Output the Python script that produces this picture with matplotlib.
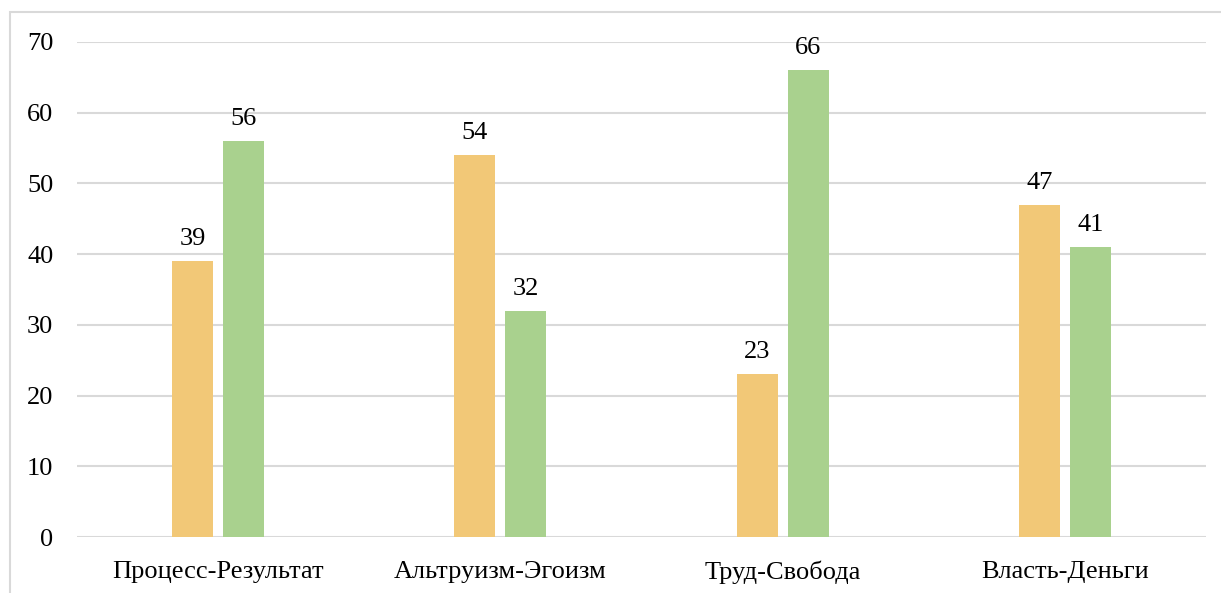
import numpy as np
import matplotlib
matplotlib.use('Agg')
import matplotlib.pyplot as plt
from matplotlib.patches import Rectangle

categories = ['Процесс-Результат', 'Альтруизм-Эгоизм', 'Труд-Свобода', 'Власть-Деньги']
series_a = [39, 54, 23, 47]
series_b = [56, 32, 66, 41]

plt.rcParams['font.family'] = ['Liberation Serif', 'DejaVu Serif']
FONTSIZE = 19

fig = plt.figure(figsize=(12.21, 5.93), dpi=100)
ax = fig.add_axes([77 / 1221, 1 - 537 / 593, (1206 - 77) / 1221, (537 - 42) / 593])

x = np.arange(len(categories))
w = 41 / 282
gap = 10 / 282
bars_a = ax.bar(x - (w + gap) / 2, series_a, w, color='#F2C877', zorder=3)
bars_b = ax.bar(x + (w + gap) / 2, series_b, w, color='#A9D18E', zorder=3)

for bars in (bars_a, bars_b):
    for b in bars:
        ax.annotate('%d' % b.get_height(), (b.get_x() + b.get_width() / 2, b.get_height()),
                    xytext=(0, 8), textcoords='offset points', ha='center', va='bottom',
                    fontsize=FONTSIZE)

ax.set_xlim(-0.5, len(categories) - 0.5)
ax.set_ylim(0, 70)
ax.set_yticks(range(0, 71, 10))
ax.set_xticks(x)
ax.set_xticklabels(categories)
ax.yaxis.grid(True, color='#D9D9D9', linewidth=1.5, zorder=0)
ax.tick_params(axis='both', length=0, labelsize=FONTSIZE)
ax.tick_params(axis='y', pad=17)
ax.tick_params(axis='x', pad=17)
for s in ax.spines.values():
    s.set_visible(False)

# chart border, running off the right and bottom edges
fig.patches.append(Rectangle((10 / 1221, -0.1), 1.2, 1.1 - 12 / 593, transform=fig.transFigure,
                             fill=False, edgecolor='#D9D9D9', linewidth=1.5, zorder=0))

fig.savefig('out.png', dpi=100)
